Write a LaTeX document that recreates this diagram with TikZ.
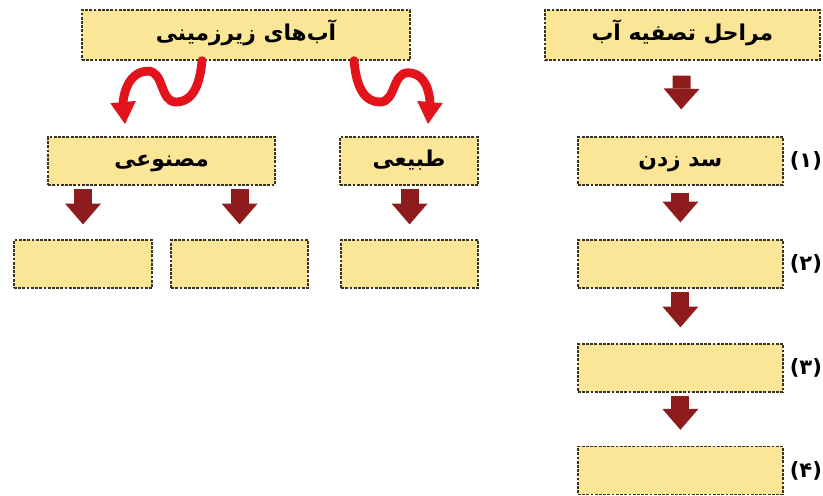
\documentclass[tikz,border=0pt]{standalone}
\usepackage{fontspec}
\newfontfamily\arabicfont[Script=Arabic]{DejaVu Sans}
\TeXXeTstate=1
\usetikzlibrary{arrows.meta}

\definecolor{boxfill}{HTML}{FBE597}
\definecolor{boxline}{HTML}{3A3320}
\definecolor{blockred}{HTML}{8E1C1C}
\definecolor{curvered}{HTML}{E3131B}

\tikzset{
	box/.style={rectangle,draw=boxline,dash pattern=on 2pt off 1pt,line width=0.9pt,fill=boxfill,
		minimum height=1.2cm,inner sep=0pt,text height=2.1ex,text depth=0.3ex,
		font=\arabicfont\bfseries\fontsize{15.5}{18}\selectfont},
	blockarrow/.style={color=blockred,line width=0.45cm,
		-{Triangle[width=0.9cm,length=0.52cm,line width=0pt,fill=blockred]},
		shorten <=0.075cm,shorten >=0.4cm},
	wavyarrow/.style={color=curvered,line width=0.22cm,line cap=round,
		-{Triangle[width=0.64cm,length=0.55cm,line width=0pt,fill=curvered]}},
	steplabel/.style={font=\arabicfont\bfseries\fontsize{15}{18}\selectfont,inner sep=0pt}
}

\begin{document}
\begin{tikzpicture}
	\useasboundingbox (0,0) rectangle (20.575,-12.375);
	
	% left tree
	\node[box,minimum width=8.2cm,minimum height=1.25cm] (ground)
	at (6.15,-0.875) {\beginR آب‌های زیرزمینی\endR};
	\node[box,minimum width=5.675cm] (artificial)
	at (4.04,-4.025) {\beginR مصنوعی\endR};
	\node[box,minimum width=3.45cm] (natural)
	at (10.225,-4.025) {\beginR طبیعی\endR};
	\node[box,minimum width=3.45cm] (artA) at (2.075,-6.6) {};
	\node[box,minimum width=3.425cm] (artB) at (5.99,-6.6) {};
	\node[box,minimum width=3.425cm] (natA) at (10.24,-6.6) {};
	
	% right column
	\node[box,minimum width=6.875cm,minimum height=1.25cm] (stages)
	at (17.06,-0.875) {\beginR مراحل تصفیه آب\endR};
	\node[box,minimum width=5.125cm] (dam)
	at (17.01,-4.025) {\beginR سد زدن\endR};
	\node[box,minimum width=5.125cm] (step2) at (17.01,-6.6) {};
	\node[box,minimum width=5.125cm] (step3) at (17.01,-9.2) {};
	\node[box,minimum width=5.125cm] (step4) at (17.01,-11.76) {};
	
	\node[steplabel,anchor=west] (lab1) at ([xshift=0.15cm]dam.east) {(۱)};
	\node[steplabel,anchor=west] (lab2) at ([xshift=0.15cm]step2.east) {(۲)};
	\node[steplabel,anchor=west] (lab3) at ([xshift=0.15cm]step3.east) {(۳)};
	\node[steplabel,anchor=west] (lab4) at ([xshift=0.15cm]step4.east) {(۴)};
	
	% wavy arrows
	\coordinate (artTip) at (3.125,-3.1);
	\coordinate (natTip) at (10.7,-3.1);
	\draw[wavyarrow] ([xshift=-1.1cm]ground.south) to[out=-95,in=0] (4.4,-2.55)
	to[out=180,in=0] (3.7,-1.78) to[out=180,in=95] (artTip);
	\draw[wavyarrow] ([xshift=2.7cm]ground.south) to[out=-85,in=180] (9.5,-2.55)
	to[out=0,in=180] (10.2,-1.82) to[out=0,in=85] (natTip);
	
	% block arrows
	\path[blockarrow,shorten <=0.375cm,shorten >=0.675cm] (stages) edge (dam);
	\path[blockarrow,shorten <=0.175cm,shorten >=0.425cm] (dam) edge (step2);
	\path[blockarrow] (step2) edge (step3);
	\path[blockarrow] (step3) edge (step4);
	\path[blockarrow,shorten >=0.375cm] (artA |- artificial.south) edge (artA.north);
	\path[blockarrow,shorten >=0.375cm] (artB |- artificial.south) edge (artB.north);
	\path[blockarrow,shorten >=0.375cm] (natA |- natural.south) edge (natA.north);
\end{tikzpicture}
\end{document}
